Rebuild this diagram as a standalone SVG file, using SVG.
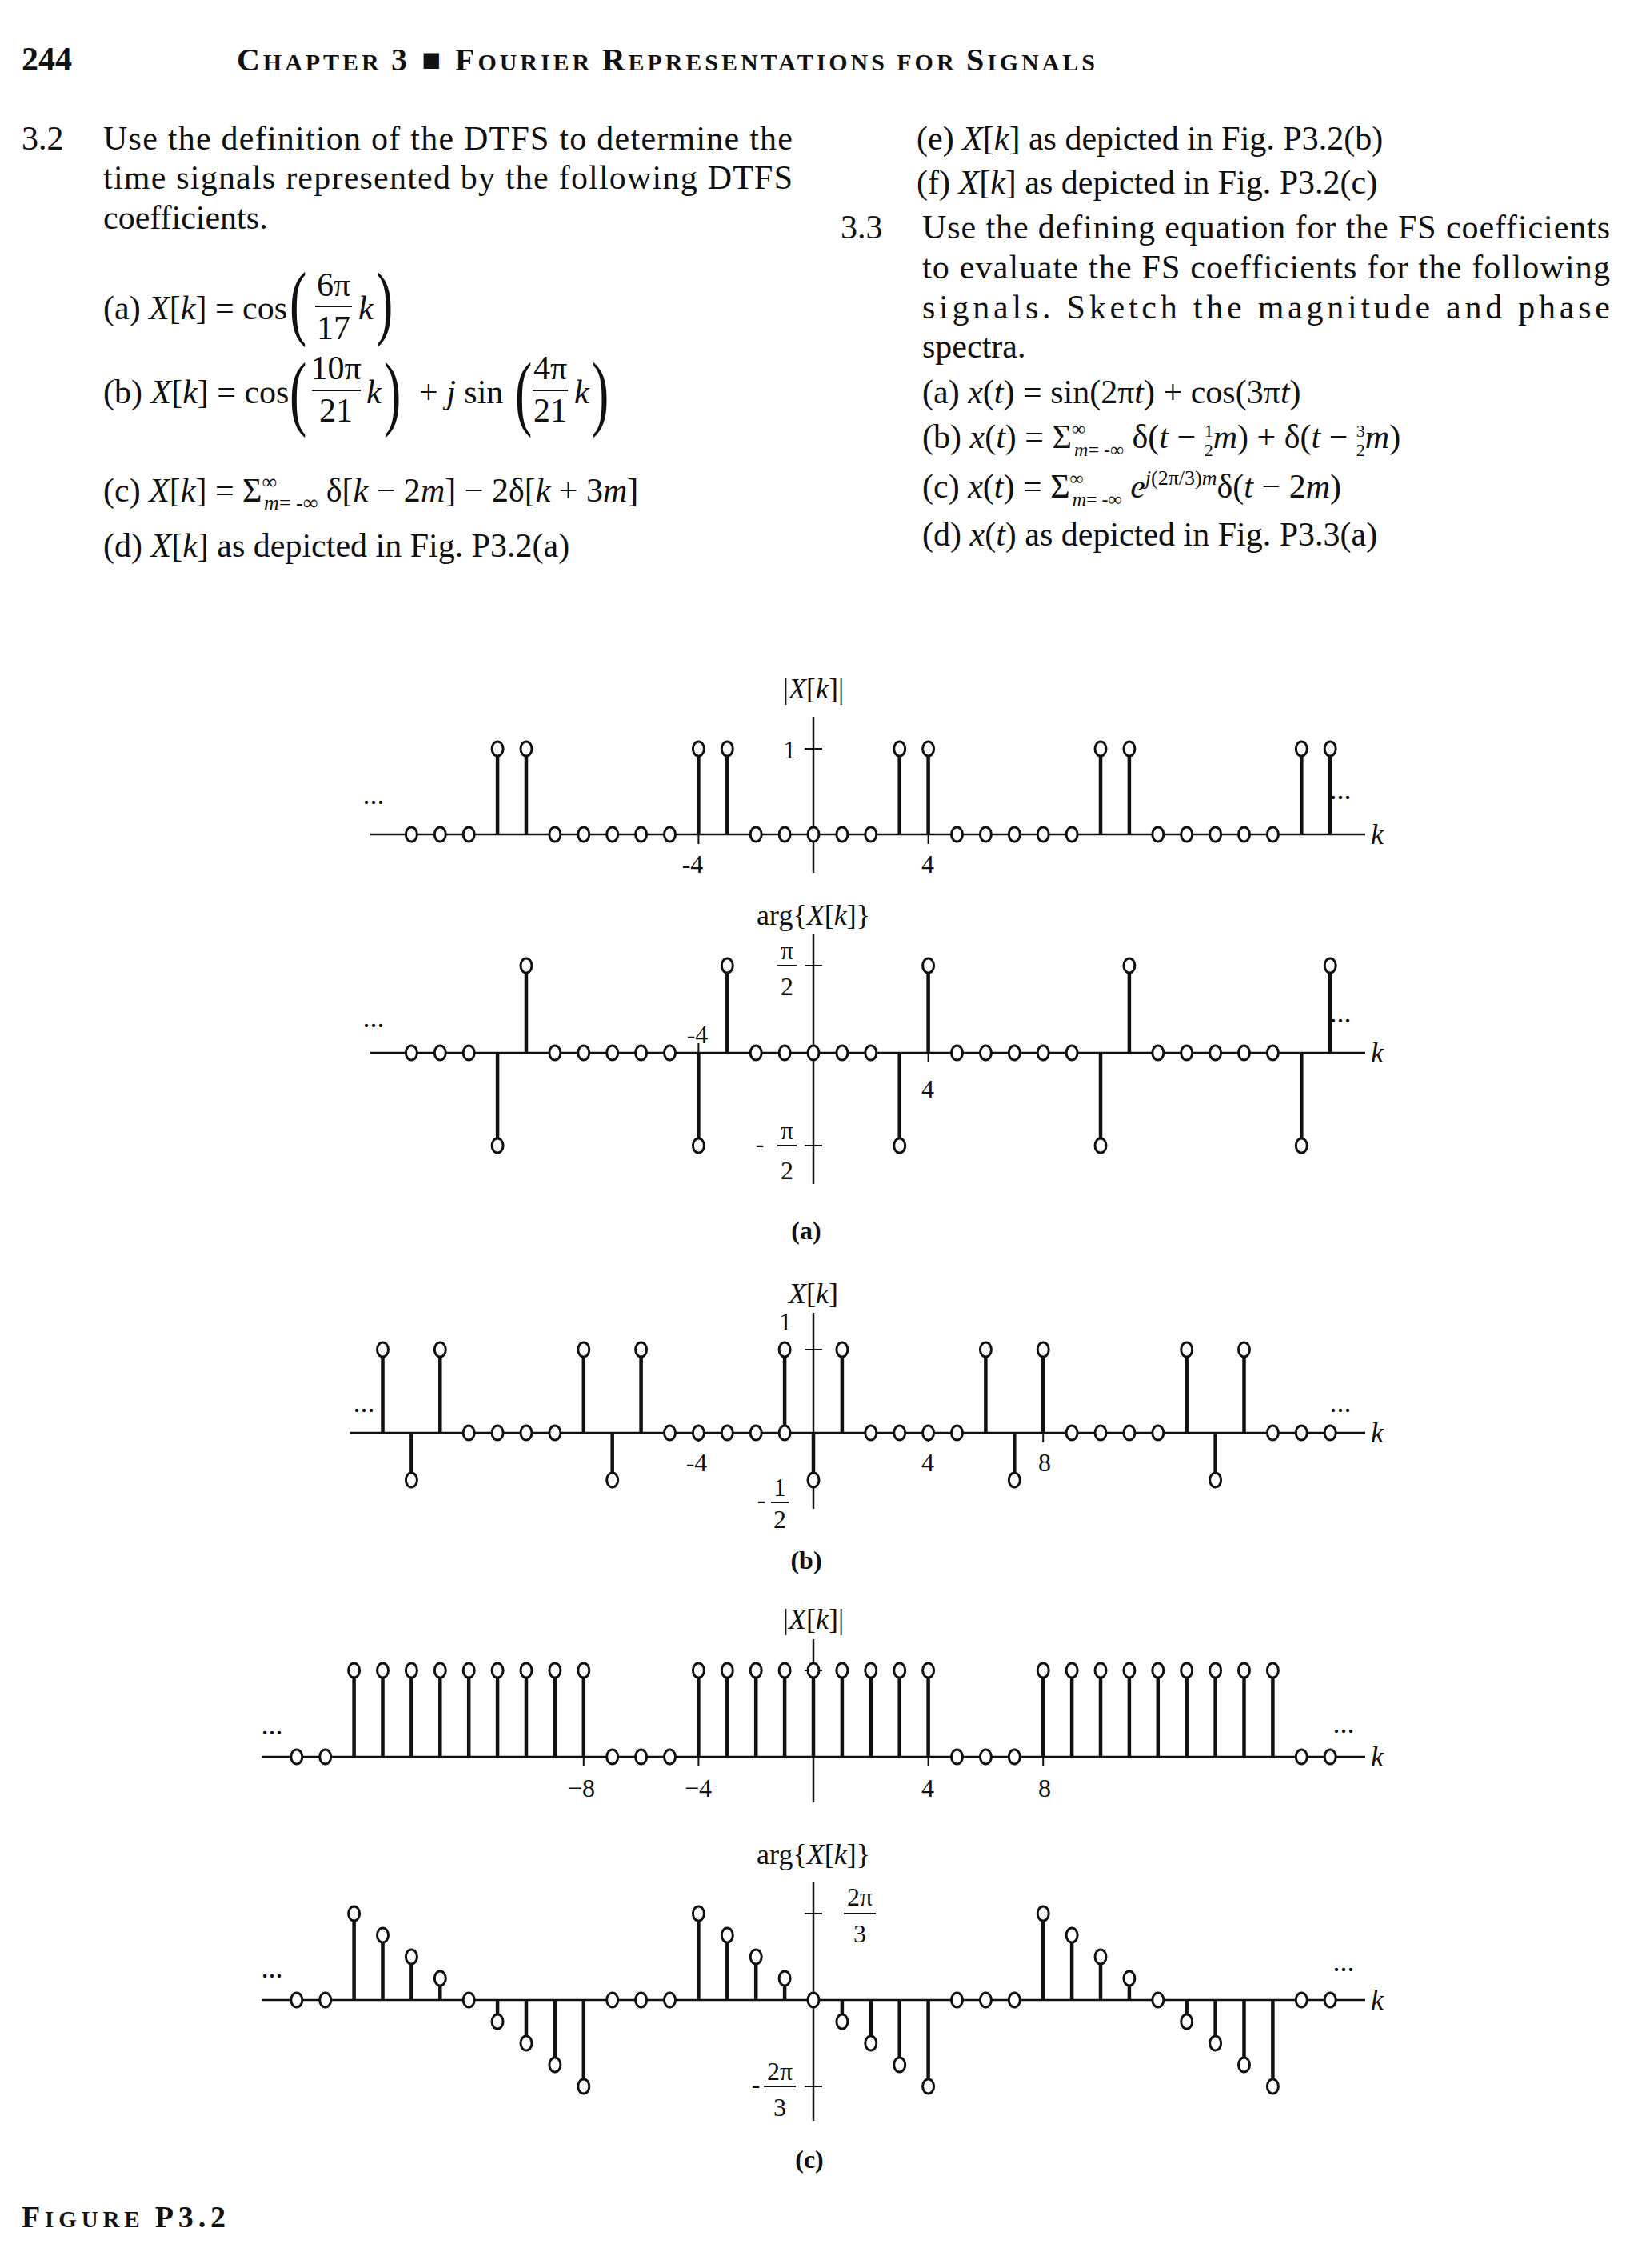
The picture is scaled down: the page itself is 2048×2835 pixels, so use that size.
<svg xmlns="http://www.w3.org/2000/svg" xmlns:xlink="http://www.w3.org/1999/xlink" width="2048" height="2835" viewBox="0 0 2048 2835">
<style>
text{font-family:"Liberation Serif","DejaVu Serif",serif;fill:#111}
.t{font-size:42px}
.i{font-style:italic}
.h{font-weight:bold}
.lb{font-size:36px}
.nm{font-size:32px}
.pr{font-size:80px}
.ax{stroke:#111;stroke-width:2.5;fill:none}
.st{stroke:#111;stroke-width:4.5;fill:none}
.tk{stroke:#111;stroke-width:2;fill:none}
</style>
<defs>
<ellipse id="o" rx="7" ry="9" fill="#fff" stroke="#111" stroke-width="3"/>
</defs>
<rect width="2048" height="2835" fill="#fff"/>

<g id="header">
<text x="27" y="88" class="h" font-size="42">244</text>
<text x="296" y="88" class="h" textLength="1073" lengthAdjust="spacing"><tspan font-size="40">C</tspan><tspan font-size="30">HAPTER </tspan><tspan font-size="40">3  ■  F</tspan><tspan font-size="30">OURIER </tspan><tspan font-size="40">R</tspan><tspan font-size="30">EPRESENTATIONS FOR </tspan><tspan font-size="40">S</tspan><tspan font-size="30">IGNALS</tspan></text>
</g>

<g id="problem-3-2">
<text x="27" y="187" class="t">3.2</text>
<text x="129" y="187" class="t" textLength="862" lengthAdjust="spacing">Use the definition of the DTFS to determine the</text>
<text x="129" y="236" class="t" textLength="862" lengthAdjust="spacing">time signals represented by the following DTFS</text>
<text x="129" y="286" class="t">coefficients.</text>
<text x="129" y="399" class="t">(a)  <tspan class="i">X</tspan>[<tspan class="i">k</tspan>] = cos</text>
<text class="pr" transform="translate(362,412) scale(0.8,1.3)">(</text>
<text x="417" y="370" class="t" text-anchor="middle">6π</text>
<line x1="394" y1="383" x2="440" y2="383" class="tk"/>
<text x="417" y="424" class="t" text-anchor="middle">17</text>
<text x="448" y="399" class="t i">k</text>
<text class="pr" transform="translate(470,412) scale(0.8,1.3)">)</text>
<text x="129" y="504" class="t">(b)  <tspan class="i">X</tspan>[<tspan class="i">k</tspan>] = cos</text>
<text class="pr" transform="translate(362,525) scale(0.8,1.3)">(</text>
<text x="420" y="474" class="t" text-anchor="middle">10π</text>
<line x1="390" y1="488" x2="451" y2="488" class="tk"/>
<text x="420" y="527" class="t" text-anchor="middle">21</text>
<text x="458" y="504" class="t i">k</text>
<text class="pr" transform="translate(480,525) scale(0.8,1.3)">)</text>
<text x="524" y="504" class="t">+ <tspan class="i">j</tspan> sin</text>
<text class="pr" transform="translate(644,525) scale(0.8,1.3)">(</text>
<text x="688" y="474" class="t" text-anchor="middle">4π</text>
<line x1="666" y1="488" x2="710" y2="488" class="tk"/>
<text x="688" y="527" class="t" text-anchor="middle">21</text>
<text x="718" y="504" class="t i">k</text>
<text class="pr" transform="translate(740,525) scale(0.8,1.3)">)</text>
<text x="129" y="627" class="t">(c)  <tspan class="i">X</tspan>[<tspan class="i">k</tspan>] = Σ<tspan font-size="26" dy="-16">∞</tspan><tspan font-size="26" dx="-16" dy="26" class="i">m</tspan><tspan font-size="26">= -∞</tspan><tspan dy="-10"> δ[</tspan><tspan class="i">k</tspan> − 2<tspan class="i">m</tspan>] − 2δ[<tspan class="i">k</tspan> + 3<tspan class="i">m</tspan>]</text>
<text x="129" y="696" class="t">(d)  <tspan class="i">X</tspan>[<tspan class="i">k</tspan>] as depicted in Fig. P3.2(a)</text>
</g>

<g id="problem-3-3">
<text x="1146" y="187" class="t">(e)  <tspan class="i">X</tspan>[<tspan class="i">k</tspan>] as depicted in Fig. P3.2(b)</text>
<text x="1146" y="242" class="t">(f)  <tspan class="i">X</tspan>[<tspan class="i">k</tspan>] as depicted in Fig. P3.2(c)</text>
<text x="1051" y="298" class="t">3.3</text>
<text x="1153" y="298" class="t" textLength="860" lengthAdjust="spacing">Use the defining equation for the FS coefficients</text>
<text x="1153" y="348" class="t" textLength="860" lengthAdjust="spacing">to evaluate the FS coefficients for the following</text>
<text x="1153" y="398" class="t" textLength="860" lengthAdjust="spacing">signals.  Sketch  the  magnitude  and  phase</text>
<text x="1153" y="447" class="t">spectra.</text>
<text x="1153" y="504" class="t">(a)  <tspan class="i">x</tspan>(<tspan class="i">t</tspan>) = sin(2π<tspan class="i">t</tspan>) + cos(3π<tspan class="i">t</tspan>)</text>
<text x="1153" y="560" class="t">(b)  <tspan class="i">x</tspan>(<tspan class="i">t</tspan>) = Σ<tspan font-size="24" dy="-16">∞</tspan><tspan font-size="24" dx="-14" dy="26" class="i">m</tspan><tspan font-size="24">= -∞</tspan><tspan dy="-10"> δ(</tspan><tspan class="i">t</tspan> − <tspan font-size="22" dy="-14">1</tspan><tspan font-size="22" dx="-11" dy="24">2</tspan><tspan class="i" dy="-10">m</tspan>) + δ(<tspan class="i">t</tspan> − <tspan font-size="22" dy="-14">3</tspan><tspan font-size="22" dx="-11" dy="24">2</tspan><tspan class="i" dy="-10">m</tspan>)</text>
<text x="1153" y="622" class="t">(c)  <tspan class="i">x</tspan>(<tspan class="i">t</tspan>) = Σ<tspan font-size="24" dy="-16">∞</tspan><tspan font-size="24" dx="-14" dy="26" class="i">m</tspan><tspan font-size="24">= -∞</tspan><tspan dy="-10"> </tspan><tspan class="i">e</tspan><tspan font-size="26" dy="-16"><tspan class="i">j</tspan>(2π/3)<tspan class="i">m</tspan></tspan><tspan dy="16">δ(</tspan><tspan class="i">t</tspan> − 2<tspan class="i">m</tspan>)</text>
<text x="1153" y="682" class="t">(d)  <tspan class="i">x</tspan>(<tspan class="i">t</tspan>) as depicted in Fig. P3.3(a)</text>
</g>

<!-- Plot (a) magnitude -->
<g id="plot-a-mag" transform="translate(0,1043)">
<line x1="463" y1="0" x2="1707" y2="0" class="ax"/>
<line x1="1017" y1="-147" x2="1017" y2="48" class="ax"/>
<path class="tk" d="M1006 -107H1028M873.4 0V12M1160.6 0V12"/>
<path class="st" d="M622.1 0V-107M658 0V-107M873.4 0V-107M909.3 0V-107M1124.7 0V-107M1160.6 0V-107M1376 0V-107M1411.9 0V-107M1627.3 0V-107M1663.2 0V-107"/>
<g>
<use xlink:href="#o" x="622.1" y="-107"/><use xlink:href="#o" x="658" y="-107"/><use xlink:href="#o" x="873.4" y="-107"/><use xlink:href="#o" x="909.3" y="-107"/><use xlink:href="#o" x="1124.7" y="-107"/><use xlink:href="#o" x="1160.6" y="-107"/><use xlink:href="#o" x="1376" y="-107"/><use xlink:href="#o" x="1411.9" y="-107"/><use xlink:href="#o" x="1627.3" y="-107"/><use xlink:href="#o" x="1663.2" y="-107"/>
<use xlink:href="#o" x="514.4" y="0"/><use xlink:href="#o" x="550.3" y="0"/><use xlink:href="#o" x="586.2" y="0"/><use xlink:href="#o" x="693.9" y="0"/><use xlink:href="#o" x="729.8" y="0"/><use xlink:href="#o" x="765.7" y="0"/><use xlink:href="#o" x="801.6" y="0"/><use xlink:href="#o" x="837.5" y="0"/><use xlink:href="#o" x="945.2" y="0"/><use xlink:href="#o" x="981.1" y="0"/><use xlink:href="#o" x="1017" y="0"/><use xlink:href="#o" x="1052.9" y="0"/><use xlink:href="#o" x="1088.8" y="0"/><use xlink:href="#o" x="1196.5" y="0"/><use xlink:href="#o" x="1232.4" y="0"/><use xlink:href="#o" x="1268.3" y="0"/><use xlink:href="#o" x="1304.2" y="0"/><use xlink:href="#o" x="1340.1" y="0"/><use xlink:href="#o" x="1447.8" y="0"/><use xlink:href="#o" x="1483.7" y="0"/><use xlink:href="#o" x="1519.6" y="0"/><use xlink:href="#o" x="1555.5" y="0"/><use xlink:href="#o" x="1591.4" y="0"/>
</g>
<text x="1017" y="-170" class="lb" text-anchor="middle">|<tspan class="i">X</tspan>[<tspan class="i">k</tspan>]|</text>
<text x="995" y="-95" class="nm" text-anchor="end">1</text>
<text x="866" y="48" class="nm" text-anchor="middle">-4</text>
<text x="1160" y="48" class="nm" text-anchor="middle">4</text>
<text x="467" y="-38" class="lb" text-anchor="middle">...</text>
<text x="1676" y="-44" class="lb" text-anchor="middle">...</text>
<text x="1714" y="12" class="lb i">k</text>
</g>

<!-- Plot (a) phase -->
<g id="plot-a-phase" transform="translate(0,1316)">
<line x1="463" y1="0" x2="1707" y2="0" class="ax"/>
<line x1="1017" y1="-148" x2="1017" y2="164" class="ax"/>
<path class="tk" d="M1006 -109H1028M1006 116H1028M873.4 0V-12M1160.6 0V12"/>
<path class="st" d="M658 0V-109M909.3 0V-109M1160.6 0V-109M1411.9 0V-109M1663.2 0V-109M622.1 0V116M873.4 0V116M1124.7 0V116M1376 0V116M1627.3 0V116"/>
<g>
<use xlink:href="#o" x="658" y="-109"/><use xlink:href="#o" x="909.3" y="-109"/><use xlink:href="#o" x="1160.6" y="-109"/><use xlink:href="#o" x="1411.9" y="-109"/><use xlink:href="#o" x="1663.2" y="-109"/>
<use xlink:href="#o" x="622.1" y="116"/><use xlink:href="#o" x="873.4" y="116"/><use xlink:href="#o" x="1124.7" y="116"/><use xlink:href="#o" x="1376" y="116"/><use xlink:href="#o" x="1627.3" y="116"/>
<use xlink:href="#o" x="514.4" y="0"/><use xlink:href="#o" x="550.3" y="0"/><use xlink:href="#o" x="586.2" y="0"/><use xlink:href="#o" x="693.9" y="0"/><use xlink:href="#o" x="729.8" y="0"/><use xlink:href="#o" x="765.7" y="0"/><use xlink:href="#o" x="801.6" y="0"/><use xlink:href="#o" x="837.5" y="0"/><use xlink:href="#o" x="945.2" y="0"/><use xlink:href="#o" x="981.1" y="0"/><use xlink:href="#o" x="1017" y="0"/><use xlink:href="#o" x="1052.9" y="0"/><use xlink:href="#o" x="1088.8" y="0"/><use xlink:href="#o" x="1196.5" y="0"/><use xlink:href="#o" x="1232.4" y="0"/><use xlink:href="#o" x="1268.3" y="0"/><use xlink:href="#o" x="1304.2" y="0"/><use xlink:href="#o" x="1340.1" y="0"/><use xlink:href="#o" x="1447.8" y="0"/><use xlink:href="#o" x="1483.7" y="0"/><use xlink:href="#o" x="1519.6" y="0"/><use xlink:href="#o" x="1555.5" y="0"/><use xlink:href="#o" x="1591.4" y="0"/>
</g>
<text x="1017" y="-160" class="lb" text-anchor="middle">arg{<tspan class="i">X</tspan>[<tspan class="i">k</tspan>]}</text>
<text x="984" y="-117" class="nm" text-anchor="middle">π</text>
<line x1="972" y1="-109" x2="996" y2="-109" class="tk"/>
<text x="984" y="-72" class="nm" text-anchor="middle">2</text>
<text x="950" y="124" class="nm" text-anchor="middle">-</text>
<text x="984" y="108" class="nm" text-anchor="middle">π</text>
<line x1="972" y1="116" x2="996" y2="116" class="tk"/>
<text x="984" y="158" class="nm" text-anchor="middle">2</text>
<text x="872" y="-12" class="nm" text-anchor="middle">-4</text>
<text x="1160" y="56" class="nm" text-anchor="middle">4</text>
<text x="467" y="-32" class="lb" text-anchor="middle">...</text>
<text x="1676" y="-38" class="lb" text-anchor="middle">...</text>
<text x="1714" y="12" class="lb i">k</text>
<text x="1008" y="233" class="nm h" text-anchor="middle">(a)</text>
</g>

<!-- Plot (b) -->
<g id="plot-b" transform="translate(0,1791)">
<line x1="437" y1="0" x2="1707" y2="0" class="ax"/>
<line x1="1017" y1="-150" x2="1017" y2="95" class="ax"/>
<path class="tk" d="M1006 -104H1028M873.4 0V12M1160.6 0V12M1304.2 0V12"/>
<path class="st" d="M478.5 0V-104M550.3 0V-104M729.8 0V-104M801.6 0V-104M981.1 0V-104M1052.9 0V-104M1232.4 0V-104M1304.2 0V-104M1483.7 0V-104M1555.5 0V-104M514.4 0V59M765.7 0V59M1017 0V59M1268.3 0V59M1519.6 0V59"/>
<g>
<use xlink:href="#o" x="478.5" y="-104"/><use xlink:href="#o" x="550.3" y="-104"/><use xlink:href="#o" x="729.8" y="-104"/><use xlink:href="#o" x="801.6" y="-104"/><use xlink:href="#o" x="981.1" y="-104"/><use xlink:href="#o" x="1052.9" y="-104"/><use xlink:href="#o" x="1232.4" y="-104"/><use xlink:href="#o" x="1304.2" y="-104"/><use xlink:href="#o" x="1483.7" y="-104"/><use xlink:href="#o" x="1555.5" y="-104"/>
<use xlink:href="#o" x="514.4" y="59"/><use xlink:href="#o" x="765.7" y="59"/><use xlink:href="#o" x="1017" y="59"/><use xlink:href="#o" x="1268.3" y="59"/><use xlink:href="#o" x="1519.6" y="59"/>
<use xlink:href="#o" x="586.2" y="0"/><use xlink:href="#o" x="622.1" y="0"/><use xlink:href="#o" x="658" y="0"/><use xlink:href="#o" x="693.9" y="0"/><use xlink:href="#o" x="837.5" y="0"/><use xlink:href="#o" x="873.4" y="0"/><use xlink:href="#o" x="909.3" y="0"/><use xlink:href="#o" x="945.2" y="0"/><use xlink:href="#o" x="981.1" y="0"/><use xlink:href="#o" x="1088.8" y="0"/><use xlink:href="#o" x="1124.7" y="0"/><use xlink:href="#o" x="1160.6" y="0"/><use xlink:href="#o" x="1196.5" y="0"/><use xlink:href="#o" x="1340.1" y="0"/><use xlink:href="#o" x="1376" y="0"/><use xlink:href="#o" x="1411.9" y="0"/><use xlink:href="#o" x="1447.8" y="0"/><use xlink:href="#o" x="1591.4" y="0"/><use xlink:href="#o" x="1627.3" y="0"/><use xlink:href="#o" x="1663.2" y="0"/>
</g>
<text x="1017" y="-162" class="lb" text-anchor="middle"><tspan class="i">X</tspan>[<tspan class="i">k</tspan>]</text>
<text x="990" y="-128" class="nm" text-anchor="end">1</text>
<text x="871" y="48" class="nm" text-anchor="middle">-4</text>
<text x="1160" y="48" class="nm" text-anchor="middle">4</text>
<text x="1306" y="48" class="nm" text-anchor="middle">8</text>
<text x="952" y="94" class="nm" text-anchor="middle">-</text>
<text x="975" y="79" class="nm" text-anchor="middle">1</text>
<line x1="964" y1="87" x2="986" y2="87" class="tk"/>
<text x="975" y="119" class="nm" text-anchor="middle">2</text>
<text x="455" y="-26" class="lb" text-anchor="middle">...</text>
<text x="1676" y="-26" class="lb" text-anchor="middle">...</text>
<text x="1714" y="12" class="lb i">k</text>
<text x="1008" y="170" class="nm h" text-anchor="middle">(b)</text>
</g>

<!-- Plot (c) magnitude -->
<g id="plot-c-mag" transform="translate(0,2196)">
<line x1="327" y1="0" x2="1707" y2="0" class="ax"/>
<line x1="1017" y1="-147" x2="1017" y2="57" class="ax"/>
<path class="tk" d="M1006 -108H1028M729.8 0V12M873.4 0V12M1160.6 0V12M1304.2 0V12"/>
<path class="st" d="M442.6 0V-108M478.5 0V-108M514.4 0V-108M550.3 0V-108M586.2 0V-108M622.1 0V-108M658 0V-108M693.9 0V-108M729.8 0V-108M873.4 0V-108M909.3 0V-108M945.2 0V-108M981.1 0V-108M1017 0V-108M1052.9 0V-108M1088.8 0V-108M1124.7 0V-108M1160.6 0V-108M1304.2 0V-108M1340.1 0V-108M1376 0V-108M1411.9 0V-108M1447.8 0V-108M1483.7 0V-108M1519.6 0V-108M1555.5 0V-108M1591.4 0V-108"/>
<g>
<use xlink:href="#o" x="442.6" y="-108"/><use xlink:href="#o" x="478.5" y="-108"/><use xlink:href="#o" x="514.4" y="-108"/><use xlink:href="#o" x="550.3" y="-108"/><use xlink:href="#o" x="586.2" y="-108"/><use xlink:href="#o" x="622.1" y="-108"/><use xlink:href="#o" x="658" y="-108"/><use xlink:href="#o" x="693.9" y="-108"/><use xlink:href="#o" x="729.8" y="-108"/>
<use xlink:href="#o" x="873.4" y="-108"/><use xlink:href="#o" x="909.3" y="-108"/><use xlink:href="#o" x="945.2" y="-108"/><use xlink:href="#o" x="981.1" y="-108"/><use xlink:href="#o" x="1017" y="-108"/><use xlink:href="#o" x="1052.9" y="-108"/><use xlink:href="#o" x="1088.8" y="-108"/><use xlink:href="#o" x="1124.7" y="-108"/><use xlink:href="#o" x="1160.6" y="-108"/>
<use xlink:href="#o" x="1304.2" y="-108"/><use xlink:href="#o" x="1340.1" y="-108"/><use xlink:href="#o" x="1376" y="-108"/><use xlink:href="#o" x="1411.9" y="-108"/><use xlink:href="#o" x="1447.8" y="-108"/><use xlink:href="#o" x="1483.7" y="-108"/><use xlink:href="#o" x="1519.6" y="-108"/><use xlink:href="#o" x="1555.5" y="-108"/><use xlink:href="#o" x="1591.4" y="-108"/>
<use xlink:href="#o" x="370.8" y="0"/><use xlink:href="#o" x="406.7" y="0"/><use xlink:href="#o" x="765.7" y="0"/><use xlink:href="#o" x="801.6" y="0"/><use xlink:href="#o" x="837.5" y="0"/><use xlink:href="#o" x="1196.5" y="0"/><use xlink:href="#o" x="1232.4" y="0"/><use xlink:href="#o" x="1268.3" y="0"/><use xlink:href="#o" x="1627.3" y="0"/><use xlink:href="#o" x="1663.2" y="0"/>
</g>
<text x="1017" y="-160" class="lb" text-anchor="middle">|<tspan class="i">X</tspan>[<tspan class="i">k</tspan>]|</text>
<text x="727" y="50" class="nm" text-anchor="middle">−8</text>
<text x="873" y="50" class="nm" text-anchor="middle">−4</text>
<text x="1160" y="50" class="nm" text-anchor="middle">4</text>
<text x="1306" y="50" class="nm" text-anchor="middle">8</text>
<text x="340" y="-28" class="lb" text-anchor="middle">...</text>
<text x="1680" y="-30" class="lb" text-anchor="middle">...</text>
<text x="1714" y="12" class="lb i">k</text>
</g>

<!-- Plot (c) phase -->
<g id="plot-c-phase" transform="translate(0,2500)">
<line x1="327" y1="0" x2="1707" y2="0" class="ax"/>
<line x1="1017" y1="-148" x2="1017" y2="151" class="ax"/>
<path class="tk" d="M1006 -108H1028M1006 108H1028"/>
<path class="st" d="M442.6 0V-108M478.5 0V-81M514.4 0V-54M550.3 0V-27M622.1 0V27M658 0V54M693.9 0V81M729.8 0V108M873.4 0V-108M909.3 0V-81M945.2 0V-54M981.1 0V-27M1052.9 0V27M1088.8 0V54M1124.7 0V81M1160.6 0V108M1304.2 0V-108M1340.1 0V-81M1376 0V-54M1411.9 0V-27M1483.7 0V27M1519.6 0V54M1555.5 0V81M1591.4 0V108"/>
<g>
<use xlink:href="#o" x="442.6" y="-108"/><use xlink:href="#o" x="478.5" y="-81"/><use xlink:href="#o" x="514.4" y="-54"/><use xlink:href="#o" x="550.3" y="-27"/><use xlink:href="#o" x="622.1" y="27"/><use xlink:href="#o" x="658" y="54"/><use xlink:href="#o" x="693.9" y="81"/><use xlink:href="#o" x="729.8" y="108"/>
<use xlink:href="#o" x="873.4" y="-108"/><use xlink:href="#o" x="909.3" y="-81"/><use xlink:href="#o" x="945.2" y="-54"/><use xlink:href="#o" x="981.1" y="-27"/><use xlink:href="#o" x="1052.9" y="27"/><use xlink:href="#o" x="1088.8" y="54"/><use xlink:href="#o" x="1124.7" y="81"/><use xlink:href="#o" x="1160.6" y="108"/>
<use xlink:href="#o" x="1304.2" y="-108"/><use xlink:href="#o" x="1340.1" y="-81"/><use xlink:href="#o" x="1376" y="-54"/><use xlink:href="#o" x="1411.9" y="-27"/><use xlink:href="#o" x="1483.7" y="27"/><use xlink:href="#o" x="1519.6" y="54"/><use xlink:href="#o" x="1555.5" y="81"/><use xlink:href="#o" x="1591.4" y="108"/>
<use xlink:href="#o" x="370.8" y="0"/><use xlink:href="#o" x="406.7" y="0"/><use xlink:href="#o" x="586.2" y="0"/><use xlink:href="#o" x="765.7" y="0"/><use xlink:href="#o" x="801.6" y="0"/><use xlink:href="#o" x="837.5" y="0"/><use xlink:href="#o" x="1017" y="0"/><use xlink:href="#o" x="1196.5" y="0"/><use xlink:href="#o" x="1232.4" y="0"/><use xlink:href="#o" x="1268.3" y="0"/><use xlink:href="#o" x="1447.8" y="0"/><use xlink:href="#o" x="1627.3" y="0"/><use xlink:href="#o" x="1663.2" y="0"/>
</g>
<text x="1017" y="-170" class="lb" text-anchor="middle">arg{<tspan class="i">X</tspan>[<tspan class="i">k</tspan>]}</text>
<text x="1075" y="-118" class="nm" text-anchor="middle">2π</text>
<line x1="1055" y1="-108" x2="1095" y2="-108" class="tk"/>
<text x="1075" y="-72" class="nm" text-anchor="middle">3</text>
<text x="945" y="116" class="nm" text-anchor="middle">-</text>
<text x="975" y="100" class="nm" text-anchor="middle">2π</text>
<line x1="955" y1="108" x2="995" y2="108" class="tk"/>
<text x="975" y="145" class="nm" text-anchor="middle">3</text>
<text x="340" y="-28" class="lb" text-anchor="middle">...</text>
<text x="1680" y="-36" class="lb" text-anchor="middle">...</text>
<text x="1714" y="12" class="lb i">k</text>
<text x="1012" y="210" class="nm h" text-anchor="middle">(c)</text>
</g>

<text id="figure-caption" x="27" y="2784" class="h" textLength="255" lengthAdjust="spacing"><tspan font-size="38">F</tspan><tspan font-size="29">IGURE </tspan><tspan font-size="38">P3.2</tspan></text>
</svg>
